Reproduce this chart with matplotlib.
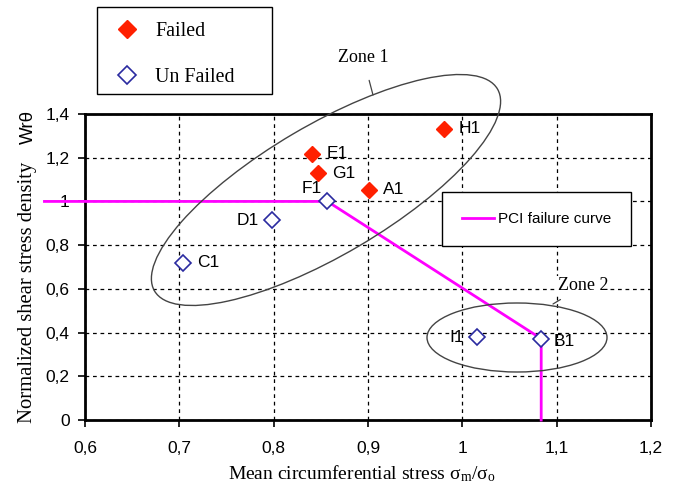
import matplotlib
matplotlib.use("Agg")
import matplotlib.pyplot as plt
from matplotlib.patches import Ellipse, Rectangle
from matplotlib.transforms import IdentityTransform
from matplotlib.ticker import FuncFormatter, MultipleLocator

SERIF = "Liberation Serif"
SANS = "Liberation Sans"
W, H = 691, 484

# failed rods
failed_names = ["H1", "E1", "G1", "A1"]
failed_x = [0.981, 0.841, 0.847, 0.901]
failed_y = [1.332, 1.219, 1.130, 1.053]

# rods that did not fail
ok_names = ["F1", "D1", "C1", "I1", "B1"]
ok_x = [0.857, 0.798, 0.704, 1.0155, 1.0836]
ok_y = [1.000, 0.914, 0.720, 0.378, 0.372]

# PCI failure curve
pci_x = [0.557, 0.857, 1.0836, 1.0836]
pci_y = [1.0, 1.0, 0.372, 0.0]

# label offsets in points (dx, dy, ha)
label_pos = {
    "H1": (10, 0, "left"), "E1": (10, 0, "left"), "G1": (10, 0, "left"),
    "A1": (10, 0, "left"), "F1": (-4, 9, "right"), "D1": (-9, 0, "right"),
    "C1": (10, 0, "left"), "I1": (-9, 0, "right"), "B1": (9, -2, "left"),
}


def px(x, y):
    # top-left pixel position -> figure pixels
    return (x, H - y)


fig = plt.figure(figsize=(W / 100, H / 100), dpi=100)
ax = fig.add_axes([85 / W, 1 - 420 / H, (651 - 85) / W, (420 - 114) / H])

ax.set_xlim(0.6, 1.2)
ax.set_ylim(0, 1.4)
ax.xaxis.set_major_locator(MultipleLocator(0.1))
ax.yaxis.set_major_locator(MultipleLocator(0.2))
comma = FuncFormatter(lambda v, p: ("%g" % round(v, 2)).replace(".", ","))
ax.xaxis.set_major_formatter(comma)
ax.yaxis.set_major_formatter(comma)
for lab in ax.get_xticklabels() + ax.get_yticklabels():
    lab.set_fontfamily(SANS)
    lab.set_fontsize(12.5)
ax.tick_params(direction="out", length=5, width=1.2, color="black")
ax.tick_params(axis="x", pad=10)
ax.tick_params(axis="y", pad=6)
ax.grid(True, color="black", linestyle=(0, (3, 3)), linewidth=0.9)
ax.set_axisbelow(True)
for s in ax.spines.values():
    s.set_linewidth(2)

pci, = ax.plot(pci_x, pci_y, color="#ff00ff", lw=2, clip_on=False, zorder=3,
               label="PCI failure curve")
f_marks, = ax.plot(failed_x, failed_y, "D", ms=8, color="#ff2000", mec="#ff2000",
                   ls="none", zorder=4, label="Failed")
u_marks, = ax.plot(ok_x, ok_y, "D", ms=8, mfc="white", mec="#2a2aa0", mew=1.2,
                   ls="none", zorder=4, label="Un Failed")

for names, xs, ys in [(failed_names, failed_x, failed_y), (ok_names, ok_x, ok_y)]:
    for n, x, y in zip(names, xs, ys):
        dx, dy, ha = label_pos[n]
        ax.annotate(n, (x, y), xytext=(dx, dy), textcoords="offset points",
                    ha=ha, va="center", fontsize=12.5, family=SANS, zorder=5)

fig.text(362 / W, 1 - 474 / H,
         r"Mean circumferential stress $\mathregular{σ_m/σ_o}$",
         ha="center", va="center", fontsize=14, family=SERIF)
fig.text(28 / W, 1 - 423 / H, "Normalized shear stress density",
         rotation=90, ha="center", va="bottom", fontsize=14.9, family=SERIF)
fig.text(28 / W, 1 - 110 / H, "Wrθ",
         rotation=90, ha="center", va="top", fontsize=13.5, family=SANS)

# legend with marker types, boxed separately
fig.add_artist(Rectangle(px(97, 94), 175, 87, fill=False, ec="black", lw=1,
                         transform=IdentityTransform()))
leg1 = ax.legend(handles=[f_marks, u_marks], loc="upper left",
                 bbox_to_anchor=(117 / W, 1 - 22 / H), bbox_transform=fig.transFigure,
                 borderaxespad=0, borderpad=0, frameon=False,
                 prop={"family": SERIF, "size": 14.4}, labelspacing=1.35,
                 handlelength=1.0, handletextpad=0.9, markerscale=1.1)
ax.add_artist(leg1)
leg2 = ax.legend(handles=[pci], loc="upper left",
                 bbox_to_anchor=(442 / W, 1 - 192 / H), bbox_transform=fig.transFigure,
                 borderaxespad=0, fancybox=False, framealpha=1, edgecolor="black",
                 prop={"family": SANS, "size": 11}, handlelength=2.1,
                 handletextpad=0.25, borderpad=1.3)
leg2.get_frame().set_linewidth(1)

# zone outlines, drawn in pixel space
zone1 = Ellipse(px(326, 190), 398, 130, angle=30.5, fill=False,
                edgecolor="#444444", lw=1, transform=IdentityTransform(), zorder=6)
zone2 = Ellipse(px(517, 337.5), 180, 69, angle=0, fill=False,
                edgecolor="#444444", lw=1, transform=IdentityTransform(), zorder=6)
fig.add_artist(zone1)
fig.add_artist(zone2)

ax.annotate("Zone 1", xy=px(373, 95), xycoords="figure pixels",
            xytext=px(363, 57), textcoords="figure pixels",
            ha="center", va="center", fontsize=13, family=SERIF,
            arrowprops=dict(arrowstyle="-", lw=0.9, color="#444444", shrinkA=9, shrinkB=0))
ax.annotate("Zone 2", xy=px(553, 304), xycoords="figure pixels",
            xytext=px(583, 286), textcoords="figure pixels",
            ha="center", va="center", fontsize=13, family=SERIF,
            bbox=dict(fc="white", ec="none", pad=1),
            arrowprops=dict(arrowstyle="-", lw=0.9, color="#444444", shrinkA=5, shrinkB=0))

fig.savefig("out.png", dpi=100)
